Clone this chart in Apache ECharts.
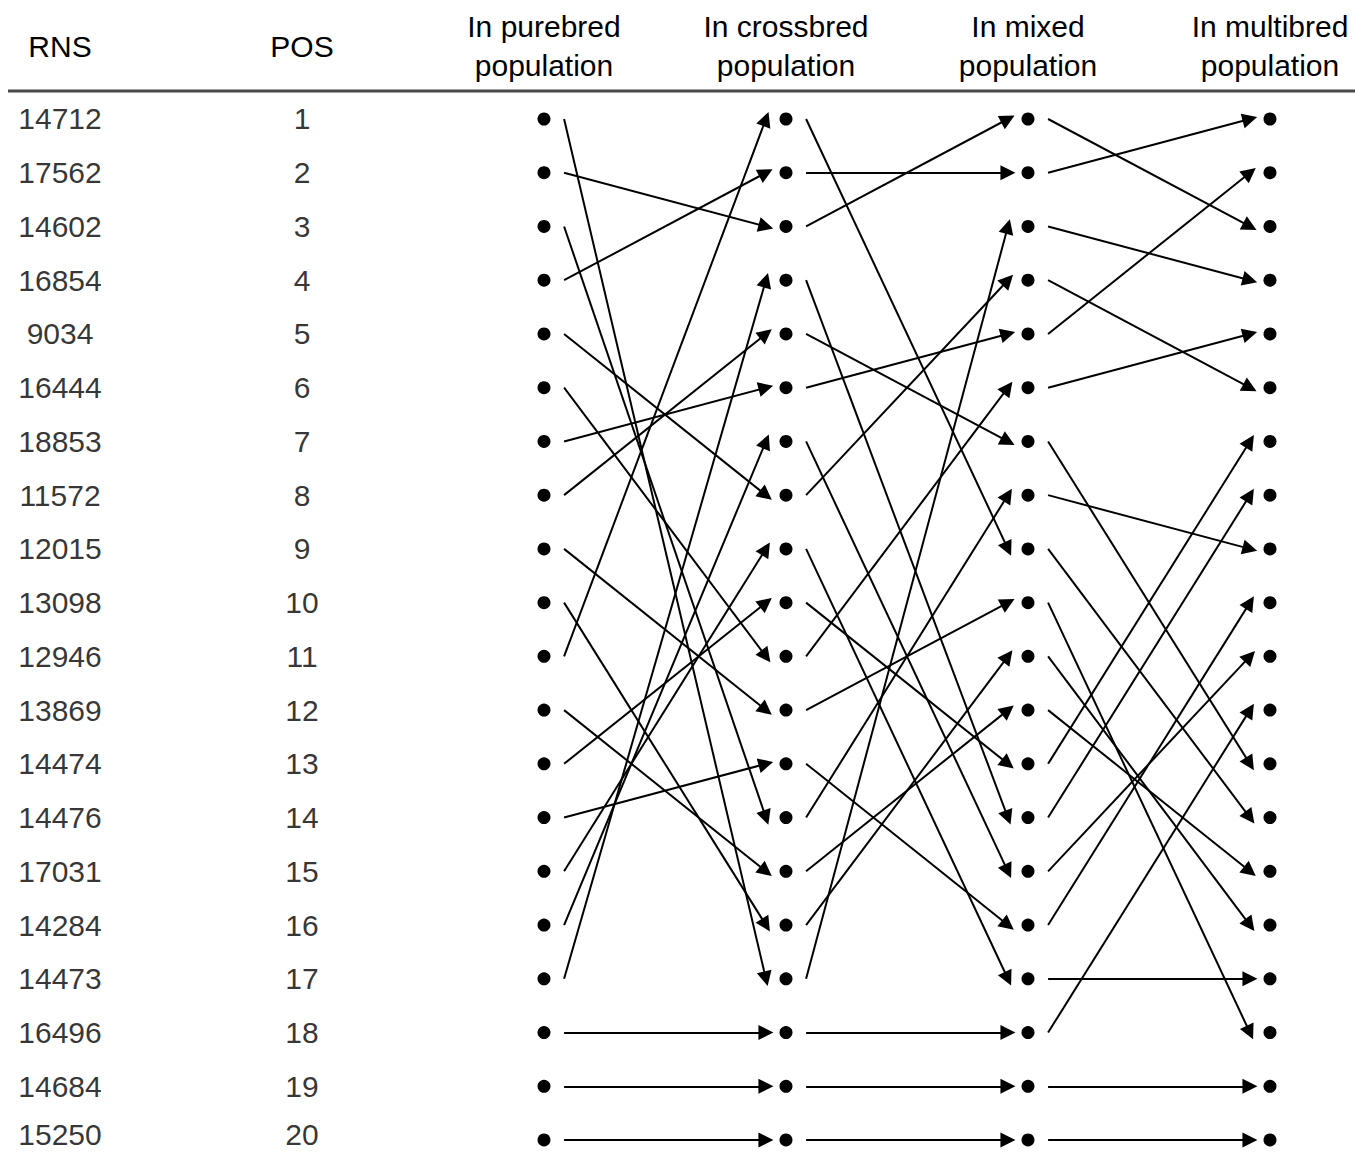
<!DOCTYPE html>
<html><head><meta charset="utf-8">
<script src="https://cdn.jsdelivr.net/npm/echarts@6/dist/echarts.min.js"></script>
<style>html,body{margin:0;padding:0;background:#fff}#c{width:1355px;height:1153px}</style>
</head><body><div id="c"></div>
<script>
const headers = ['RNS', 'POS', 'In purebred\npopulation', 'In crossbred\npopulation', 'In mixed\npopulation', 'In multibred\npopulation'];
const rns = ['14712','17562','14602','16854','9034','16444','18853','11572','12015','13098','12946','13869','14474','14476','17031','14284','14473','16496','14684','15250'];
const pos = [1,2,3,4,5,6,7,8,9,10,11,12,13,14,15,16,17,18,19,20];
// rank in next population for each rank in previous population
const pureToCross  = [17,3,14,2,8,11,6,5,12,16,1,15,10,13,9,7,4,18,19,20];
const crossToMixed = [9,2,1,14,7,5,15,4,17,13,6,10,16,8,12,11,3,18,19,20];
const mixedToMulti = [3,1,4,6,2,5,13,9,14,18,16,15,7,8,11,10,17,12,19,20];

const FONT = '"Liberation Sans", Arial, sans-serif';
const chart = echarts.init(document.getElementById('c'), null, {renderer: 'svg'});

const dotData = [];
[2, 3, 4, 5].forEach(col => pos.forEach(p => dotData.push([col, p])));

const GAP = 0.083;
function arrows(col, map) {
  return map.map((t, i) => ({coords: [[col + GAP, pos[i]], [col + 1 - GAP, t]]}));
}
const allArrows = [].concat(arrows(2, pureToCross), arrows(3, crossToMixed), arrows(4, mixedToMulti));

const textStyle = {color: '#000', fontSize: 30, lineHeight: 22, fontFamily: FONT};
// keep the bottom row's text inside the canvas
function textItems(col) {
  return pos.map((p, i) => i === pos.length - 1
    ? {value: [col, p], label: {offset: [0, -5]}}
    : {value: [col, p]});
}

chart.setOption({
  backgroundColor: '#fff',
  animation: false,
  grid: {left: 60, right: 85, top: 91, bottom: 0},
  xAxis: {
    type: 'value', min: 0, max: 5, interval: 1, position: 'top',
    axisLine: {show: false}, axisTick: {show: false}, splitLine: {show: false},
    axisLabel: {
      formatter: v => headers[v] || '', margin: 45, verticalAlign: 'middle',
      lineHeight: 39, color: '#000', fontSize: 30, fontFamily: FONT, hideOverlap: false
    }
  },
  yAxis: {type: 'value', inverse: true, min: 0.479, max: 20.242, show: false},
  graphic: [{type: 'line', shape: {x1: 8, y1: 91, x2: 1355, y2: 91}, style: {stroke: '#4a4a4a', lineWidth: 3}}],
  series: [
    {
      type: 'lines', coordinateSystem: 'cartesian2d', data: allArrows,
      symbol: ['none', 'triangle'], symbolSize: [10, 15], symbolOffset: [0, '50%'],
      lineStyle: {color: '#000', width: 2, opacity: 1}, silent: true, z: 2
    },
    {
      type: 'scatter', data: dotData, symbol: 'circle', symbolSize: 13,
      itemStyle: {color: '#000', opacity: 1}, z: 3, silent: true
    },
    {
      type: 'scatter', data: textItems(0), symbolSize: 0,
      label: {show: true, position: 'inside', formatter: p => rns[p.dataIndex], ...textStyle}, silent: true
    },
    {
      type: 'scatter', data: textItems(1), symbolSize: 0,
      label: {show: true, position: 'inside', formatter: p => String(pos[p.dataIndex]), ...textStyle}, silent: true
    }
  ]
});
</script>
</body></html>
